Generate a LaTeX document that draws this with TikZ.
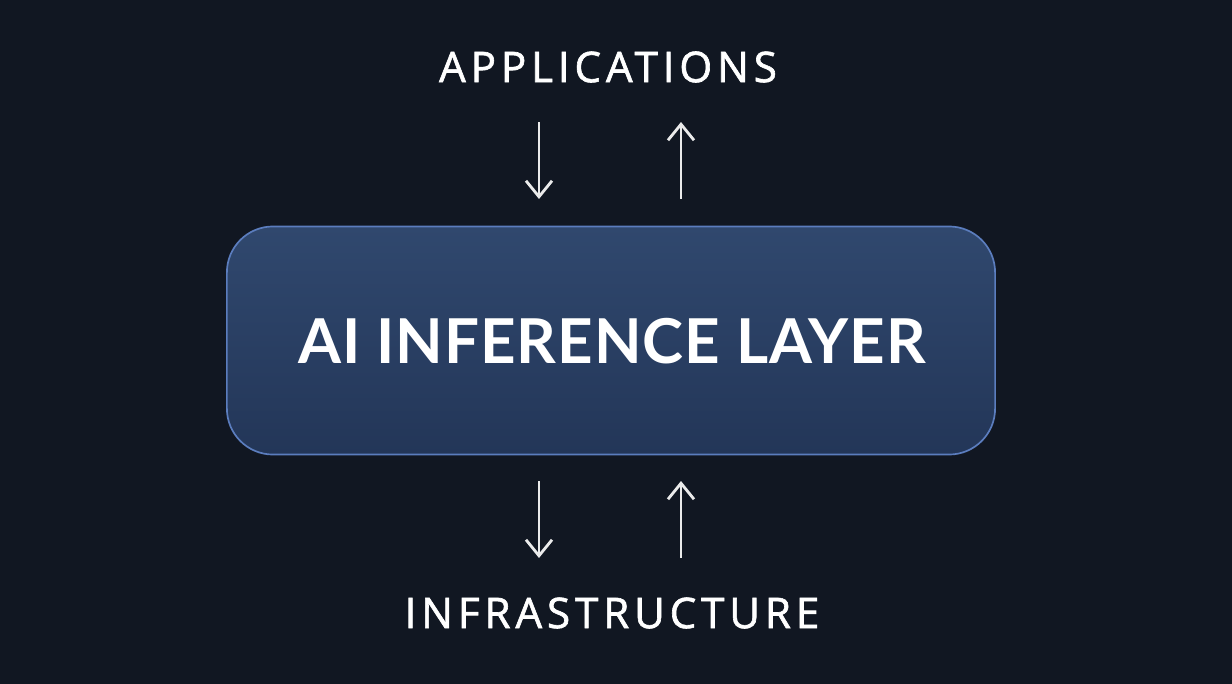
\documentclass[tikz,border=0pt]{standalone}
\usepackage{fontspec}
\setmainfont{Lato}
\newfontfamily\labelfont[LetterSpace=11.5,FakeBold=1.5]{Open Sans}
\newfontfamily\titlefont[LetterSpace=1.5]{Lato Bold}
\usepackage{xcolor}
\usetikzlibrary{arrows.meta,positioning,calc}

\definecolor{bgdark}{HTML}{111722}
\definecolor{boxtop}{HTML}{30486E}
\definecolor{boxbot}{HTML}{233658}
\definecolor{boxedge}{HTML}{5B7DBE}

\begin{document}
\begin{tikzpicture}[
  x=0.025cm,
  y=-0.025cm,
  >={Straight Barb[length=4mm,width=6.5mm]},
  flow/.style={->, line width=2pt, draw=white!92!black},
  layer/.style={draw=boxedge, line width=1.2pt, rounded corners=1.15cm,
    top color=boxtop, bottom color=boxbot, minimum width=19.2cm,
    minimum height=5.7cm, inner sep=0pt},
  label/.style={text=white, font=\labelfont\fontsize{30}{34}\selectfont}
]

% background
\fill[bgdark] (0,0) rectangle (1232,684);
\useasboundingbox (0,0) rectangle (1232,684);

\node[layer] (core) at (611,340.5) {};
\node[text=white, font=\titlefont\fontsize{44}{50}\selectfont] (title)
  at (612,341) {AI INFERENCE LAYER};

\node[label] (apps) at (608,67) {APPLICATIONS};
\node[label] (infra) at (612,613) {INFRASTRUCTURE};

% arrows between the labels and the layer
\coordinate (adown0) at (539,122);
\coordinate (adown1) at (539,199);
\coordinate (aup0) at (681,199);
\coordinate (aup1) at (681,122);
\coordinate (bdown0) at (539,481);
\coordinate (bdown1) at (539,558);
\coordinate (bup0) at (681,558);
\coordinate (bup1) at (681,481);

\draw[flow] (adown0) -- (adown1);
\draw[flow] (aup0) -- (aup1);
\draw[flow] (bdown0) -- (bdown1);
\draw[flow] (bup0) -- (bup1);

\end{tikzpicture}
\end{document}
